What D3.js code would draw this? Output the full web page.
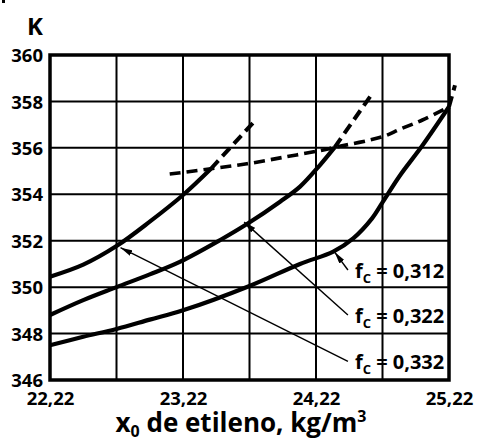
<!DOCTYPE html>
<html>
<head>
<meta charset="utf-8">
<script src="https://cdn.jsdelivr.net/npm/d3@7"></script>
<style>
  body { margin: 0; background: #fff; }
  text { font-family: "Open Sans", "Noto Sans", sans-serif; font-weight: bold; fill: #000; }
</style>
</head>
<body>
<svg id="chart" width="478" height="441"></svg>
<script>
// axis ticks
var xTicks = [22.22, 23.22, 24.22, 25.22];
var xGrid = [22.72, 23.22, 23.72, 24.22, 24.72];
var yTicks = [346, 348, 350, 352, 354, 356, 358, 360];

// f_c = 0,312 (lowest curve)
var x312 = [22.22, 22.47, 22.72, 22.97, 23.22, 23.72, 24.1, 24.35, 24.5, 24.64, 24.72, 24.85, 25.02, 25.22];
var y312 = [347.5, 347.86, 348.2, 348.6, 349.0, 350.05, 351.0, 351.53, 352.1, 352.95, 353.65, 354.8, 356.1, 357.77];
var x312d = [25.22, 25.265];
var y312d = [357.77, 358.7];

// f_c = 0,322 (middle curve)
var x322 = [22.22, 22.47, 22.72, 22.97, 23.2, 23.5, 23.71, 23.95, 24.1, 24.25, 24.36];
var y322 = [348.8, 349.44, 350.0, 350.55, 351.1, 352.03, 352.75, 353.68, 354.33, 355.26, 356.02];
var x322d = [24.36, 24.65];
var y322d = [356.02, 358.4];

// f_c = 0,332 (top curve)
var x332 = [22.22, 22.47, 22.72, 22.97, 23.22, 23.43];
var y332 = [350.45, 350.97, 351.77, 352.82, 353.97, 355.1];
var x332d = [23.43, 23.75];
var y332d = [355.1, 357.1];

// dashed limit curve
var xLim = [23.12, 23.43, 23.72, 24.0, 24.25, 24.36, 24.72, 24.85, 25.02, 25.22];
var yLim = [354.87, 355.1, 355.33, 355.62, 355.88, 356.02, 356.48, 356.8, 357.2, 357.77];

// labels: text value, arrow tail and arrow head (data coords)
var fcValues = ["0,312", "0,322", "0,332"];
var arrowTail = [[24.46, 350.74], [24.46, 348.8], [24.46, 346.8]];
var arrowHead = [[24.36, 351.51], [23.68, 352.8], [22.75, 351.7]];

var svg = d3.select("#chart");
var margin = {left: 50, right: 29, top: 55, bottom: 61};
var width = 478 - margin.left - margin.right;
var height = 441 - margin.top - margin.bottom;

var x = d3.scaleLinear().domain([22.22, 25.22]).range([margin.left, margin.left + width]);
var y = d3.scaleLinear().domain([346, 360]).range([margin.top + height, margin.top]);

// stray mark in the top corner
svg.append("rect").attr("x", 2).attr("y", 0).attr("width", 3).attr("height", 3).attr("fill", "#000");

// grid
svg.selectAll(".vgrid").data(xGrid).enter().append("line")
  .attr("x1", function(d){ return x(d); }).attr("x2", function(d){ return x(d); })
  .attr("y1", y(346)).attr("y2", y(360))
  .attr("stroke", "#000").attr("stroke-width", 2);
svg.selectAll(".hgrid").data(yTicks.slice(1, -1)).enter().append("line")
  .attr("x1", x(22.22)).attr("x2", x(25.22))
  .attr("y1", function(d){ return y(d); }).attr("y2", function(d){ return y(d); })
  .attr("stroke", "#000").attr("stroke-width", 2);

// frame
svg.append("rect")
  .attr("x", x(22.22)).attr("y", y(360))
  .attr("width", x(25.22) - x(22.22)).attr("height", y(346) - y(360))
  .attr("fill", "none").attr("stroke", "#000").attr("stroke-width", 3.5);

// axes labels
var yAxis = d3.axisLeft(y).tickValues(yTicks).tickSize(0).tickPadding(7).tickFormat(d3.format("d"));
var yg = svg.append("g").attr("transform", "translate(" + margin.left + ",0)").call(yAxis);
yg.select(".domain").remove();
yg.selectAll("text").style("font-size", "18.5px").attr("dy", "0.36em");

var xAxis = d3.axisBottom(x).tickValues(xTicks).tickSize(0).tickPadding(12)
  .tickFormat(function(d){ return d.toFixed(2).replace(".", ","); });
var xg = svg.append("g").attr("transform", "translate(0," + y(346) + ")").call(xAxis);
xg.select(".domain").remove();
xg.selectAll("text").style("font-size", "18.5px");

svg.append("text").attr("x", 27).attr("y", 35)
  .style("font-size", "24px").text("K");

var title = svg.append("text").attr("x", 241).attr("y", 432)
  .attr("text-anchor", "middle").style("font-size", "26px");
title.append("tspan").text("x");
title.append("tspan").attr("dy", 5).style("font-size", "16px").text("0");
title.append("tspan").attr("dy", -5).text(" de etileno, kg/m");
title.append("tspan").attr("dy", -10).style("font-size", "16px").text("3");

// curves
var line = d3.line()
  .x(function(d){ return x(d[0]); })
  .y(function(d){ return y(d[1]); })
  .curve(d3.curveCatmullRom.alpha(0.5));

function pts(xs, ys){ return xs.map(function(v, i){ return [v, ys[i]]; }); }

var solid = [pts(x312, y312), pts(x322, y322), pts(x332, y332)];
var dashed = [pts(x312d, y312d), pts(x322d, y322d), pts(x332d, y332d)];

svg.selectAll(".solid").data(solid).enter().append("path")
  .attr("d", line).attr("fill", "none").attr("stroke", "#000")
  .attr("stroke-width", 4.2);
svg.selectAll(".dash").data(dashed).enter().append("path")
  .attr("d", line).attr("fill", "none").attr("stroke", "#000")
  .attr("stroke-width", 4).attr("stroke-dasharray", "11,6");
svg.append("path").datum(pts(xLim, yLim))
  .attr("d", line).attr("fill", "none").attr("stroke", "#000")
  .attr("stroke-width", 3.6).attr("stroke-dasharray", "11,6");

// arrows + labels
svg.append("defs").append("marker")
  .attr("id", "arr").attr("viewBox", "0 0 12 6")
  .attr("refX", 12).attr("refY", 3)
  .attr("markerWidth", 12).attr("markerHeight", 6)
  .attr("markerUnits", "userSpaceOnUse").attr("orient", "auto")
  .append("path").attr("d", "M0,0 L12,3 L0,6 Z").attr("fill", "#000");

fcValues.forEach(function(v, i){
  svg.append("line")
    .attr("x1", x(arrowTail[i][0])).attr("y1", y(arrowTail[i][1]))
    .attr("x2", x(arrowHead[i][0])).attr("y2", y(arrowHead[i][1]))
    .attr("stroke", "#000").attr("stroke-width", 1.4)
    .attr("marker-end", "url(#arr)");
  var t = svg.append("text")
    .attr("x", x(arrowTail[i][0]) + 7).attr("y", y(arrowTail[i][1]) + 8)
    .style("font-size", "20px");
  t.append("tspan").text("f");
  t.append("tspan").attr("dy", 5).style("font-size", "13px").text("C");
  t.append("tspan").attr("dy", -5).text(" = " + v);
});
</script>
</body>
</html>
